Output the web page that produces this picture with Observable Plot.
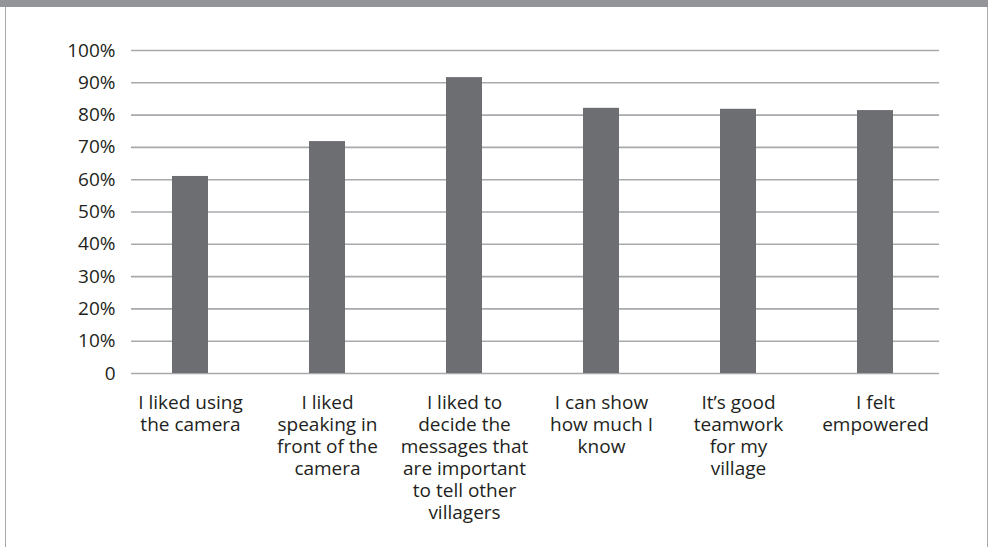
<!DOCTYPE html>
<html>
<head>
<meta charset="utf-8">
<script src="https://cdn.jsdelivr.net/npm/d3@7"></script>
<script src="https://cdn.jsdelivr.net/npm/@observablehq/plot@0.6"></script>
<style>
  html, body { margin: 0; padding: 0; background: #fff; }
  .band { width: 988px; height: 7px; background: #939598; }
  .frame { margin-left: 5px; width: 981px; height: 540px; border-left: 1px solid #a7a9ac; border-right: 1px solid #a7a9ac; }
  .frame svg { display: block; }
</style>
</head>
<body>
<div class="band"></div>
<div class="frame" id="chart"></div>
<script>
const categories = [
  "I liked using the camera",
  "I liked speaking in front of the camera",
  "I liked to decide the messages that are important to tell other villagers",
  "I can show how much I know",
  "It’s good teamwork for my village",
  "I felt empowered"
];
const labels = [
  "I liked using\nthe camera",
  "I liked\nspeaking in\nfront of the\ncamera",
  "I liked to\ndecide the\nmessages that\nare important\nto tell other\nvillagers",
  "I can show\nhow much I\nknow",
  "It’s good\nteamwork\nfor my\nvillage",
  "I felt\nempowered"
];
const values = [61.0, 71.8, 91.6, 82.1, 81.8, 81.4];
const yTicks = [0, 10, 20, 30, 40, 50, 60, 70, 80, 90, 100];

const data = categories.map((c, i) => ({category: c, label: labels[i], value: values[i]}));

const font = "'Open Sans', sans-serif";
const chart = Plot.plot({
  width: 981,
  height: 540,
  marginLeft: 125,
  marginRight: 48,
  marginTop: 43,
  marginBottom: 174,
  style: {fontFamily: font, fontSize: "19px", color: "#231f20", background: "#fff"},
  x: {domain: categories, paddingInner: 0.737, paddingOuter: 0.317, align: 0.47, axis: null},
  y: {domain: [0, 100], ticks: yTicks, label: null},
  marks: [
    Plot.ruleY(yTicks, {stroke: "#a7a9ac", strokeWidth: 1.6}),
    Plot.barY(data, {x: "category", y: "value", fill: "#6d6e71"}),
    Plot.axisY(yTicks, {
      tickSize: 0, tickPadding: 16, fontSize: 19, fill: "#231f20",
      tickFormat: d => d === 0 ? "0" : d + "%", label: null
    }),
    Plot.text(data, {
      x: "category", y: () => 0, text: "label",
      lineAnchor: "top", dy: 20, lineHeight: 1.158,
      fontSize: 19, fill: "#231f20", textAnchor: "middle"
    })
  ]
});
document.getElementById("chart").appendChild(chart);
</script>
</body>
</html>
